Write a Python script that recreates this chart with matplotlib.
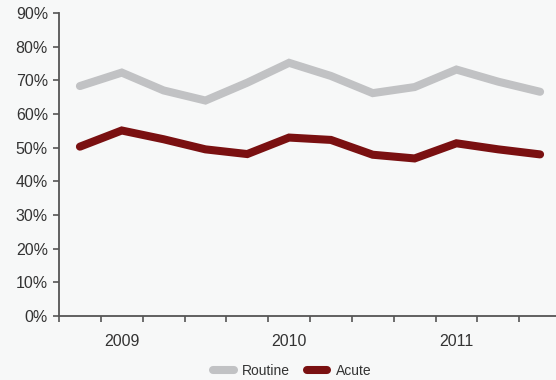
import matplotlib.pyplot as plt
import numpy as np

plt.rcParams['font.family'] = ['Liberation Sans', 'DejaVu Sans']

# Quarterly shares, 2009 - 2011
quarters = ['Q1', 'Q2', 'Q3', 'Q4'] * 3
years = ['2009', '2010', '2011']
routine = [68.3, 72.3, 67.0, 64.0, 69.3, 75.2, 71.3, 66.2, 68.0, 73.2, 69.6, 66.6]
acute = [50.3, 55.1, 52.5, 49.5, 48.1, 53.0, 52.3, 47.9, 46.8, 51.3, 49.5, 48.0]

x = np.arange(len(quarters))

fig = plt.figure(figsize=(5.56, 3.8), dpi=100)
fig.patch.set_facecolor('#f7f8f8')
ax = fig.add_axes([59 / 556, 64 / 380, 502 / 556, 303 / 380])
ax.set_facecolor('none')

ax.plot(x, routine, color='#c1c2c4', lw=5.8, solid_capstyle='round',
        solid_joinstyle='miter', label='Routine')
ax.plot(x, acute, color='#7a1011', lw=5.8, solid_capstyle='round',
        solid_joinstyle='miter', label='Acute')

ax.set_ylim(0, 90)
ax.set_yticks(np.arange(0, 91, 10))
ax.set_yticklabels([f'{v}%' for v in range(0, 91, 10)])
ax.set_xlim(-0.5, len(quarters) - 0.5)

# tick marks on quarter boundaries, year labels centred on Q2
ax.set_xticks(np.arange(-0.5, len(quarters), 1), minor=True)
ax.set_xticks([1, 5, 9])
ax.set_xticklabels(years)
ax.tick_params(axis='x', which='major', length=0, pad=13)
ax.tick_params(axis='x', which='minor', length=4, width=1.2, color='#555555')
ax.tick_params(axis='y', length=4, width=1.2, color='#555555', pad=4)
ax.tick_params(labelsize=11.5, labelcolor='#333333')

for side in ['top', 'right']:
    ax.spines[side].set_visible(False)
for side in ['left', 'bottom']:
    ax.spines[side].set_color('#555555')
    ax.spines[side].set_linewidth(1.3)

fig.legend(loc='center', bbox_to_anchor=(292 / 556, 9 / 380), ncol=2,
           frameon=False, labelcolor='#333333', fontsize=10,
           handlelength=1.5, handletextpad=0.6, columnspacing=1.2)

fig.savefig('out.png', dpi=100, facecolor=fig.get_facecolor())
